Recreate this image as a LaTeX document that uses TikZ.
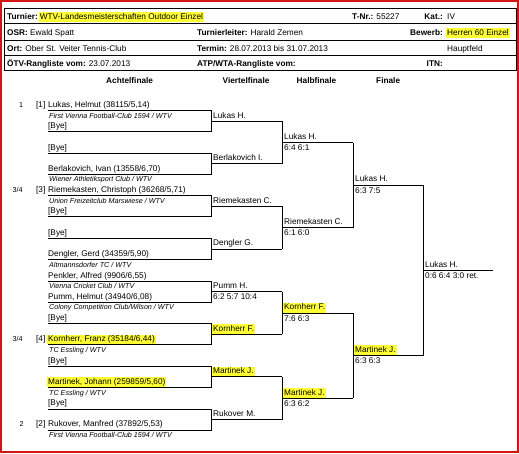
\documentclass[tikz,border=0pt]{standalone}
\usepackage{fontspec}
\setmainfont{Liberation Sans}
\definecolor{hly}{RGB}{255,255,51}
\definecolor{framered}{RGB}{210,20,20}
\newcommand{\hlt}[1]{{\setlength{\fboxsep}{1pt}\colorbox{hly}{\vphantom{Ag}#1}}}
\begin{document}
\begin{tikzpicture}[x=1bp,y=-1bp,
  txt/.style={anchor=base west,inner sep=0pt,font=\fontsize{8.3}{10}\selectfont},
  txtr/.style={anchor=base east,inner sep=0pt,font=\fontsize{8.3}{10}\selectfont\bfseries},
  colhd/.style={anchor=base west,inner sep=0pt,font=\fontsize{8.3}{10}\selectfont\bfseries},
  club/.style={anchor=base west,inner sep=0pt,font=\fontsize{7.2}{9}\selectfont\itshape},
  seedlbl/.style={anchor=base west,inner sep=0pt,font=\fontsize{7.2}{9}\selectfont},
  hlnode/.style={anchor=base west,inner sep=0pt,xshift=-1pt,font=\fontsize{8.3}{10}\selectfont},
  brk/.style={draw=black,line width=1bp},
  tblline/.style={draw=black,line width=1bp},
  redframe/.style={draw=framered,line width=1.6bp}]
\useasboundingbox (0,0) rectangle (519,454);
% outer frame
\coordinate (frTL) at (1,1); \coordinate (frBR) at (518,452);
\draw[redframe] (frTL) rectangle (frBR);
% header table
\coordinate (tbTL) at (4,8.3); \coordinate (tbBR) at (516,70.5);
\draw[tblline] (tbTL) rectangle (tbBR);
\foreach \y [count=\i] in {24,40.5,56}{
  \coordinate (rl\i) at (4,\y); \coordinate (rr\i) at (516,\y);
  \draw[tblline] (rl\i) -- (rr\i);
}
\node[txt] (hTur) at (7,19.2) {\textbf{Turnier:}\hspace{1pt}\hlt{WTV-Landesmeisterschaften Outdoor Einzel}};
\node[txt] (hTnr) at (352,19.2) {\textbf{T-Nr.:} 55227};
\node[txtr] (hKat) at (443,19.2) {Kat.:};
\node[txt] (hKatv) at (447,19.2) {IV};
\node[txt] (hOsr) at (7,35.3) {\textbf{OSR:} Ewald Spatt};
\node[txt] (hTl) at (197,35.3) {\textbf{Turnierleiter:} Harald Zemen};
\node[txtr] (hBew) at (443,35.3) {Bewerb:};
\node[hlnode] (hBewv) at (447,35.3) {\hlt{Herren 60 Einzel}};
\node[txt] (hOrt) at (7,51.3) {\textbf{Ort:} Ober St. Veiter Tennis-Club};
\node[txt] (hTer) at (197,51.3) {\textbf{Termin:} 28.07.2013 bis 31.07.2013};
\node[txt] (hHf) at (447,51.3) {Hauptfeld};
\node[txt] (hOtv) at (7,66.3) {\textbf{ÖTV-Rangliste vom:} 23.07.2013};
\node[txt] (hAtp) at (197,66.3) {\textbf{ATP/WTA-Rangliste vom:}};
\node[txtr] (hItn) at (443,66.3) {ITN:};
% column headers
\node[colhd] (cA) at (106,84) {Achtelfinale};
\node[colhd] (cV) at (222.5,84) {Viertelfinale};
\node[colhd] (cH) at (296.5,84) {Halbfinale};
\node[colhd] (cF) at (376,84) {Finale};
% first round brackets
\foreach \k/\t in {0/110.8,1/153.4,2/196.0,3/238.6,4/281.2,5/323.8,6/366.4,7/409.0}{
  \pgfmathsetmacro\b{\t+21}
  \pgfmathsetmacro\m{\t+10.5}
  \coordinate (r\k-ta) at (48,\t);
  \coordinate (r\k-tb) at (211,\t);
  \coordinate (r\k-bb) at (211,\b);
  \coordinate (r\k-ba) at (48,\b);
  \coordinate (q\k-a) at (211,\m);
  \coordinate (q\k-b) at (282,\m);
  \draw[brk] (r\k-ta) -- (r\k-tb) -- (r\k-bb) -- (r\k-ba);
  \draw[brk] (q\k-a) -- (q\k-b);
}
% quarter final joins and semi final lines
\foreach \j/\s in {0/142.6,1/227.8,2/313.0,3/398.2}{
  \pgfmathtruncatemacro\qa{2*\j}
  \pgfmathtruncatemacro\qc{2*\j+1}
  \draw[brk] (q\qa-b) -- (q\qc-b);
  \coordinate (s\j-a) at (282,\s);
  \coordinate (s\j-b) at (353,\s);
  \draw[brk] (s\j-a) -- (s\j-b);
}
% final
\draw[brk] (s0-b) -- (s1-b);
\draw[brk] (s2-b) -- (s3-b);
\coordinate (f0-a) at (353,185.2); \coordinate (f0-b) at (423,185.2);
\coordinate (f1-a) at (353,355.6); \coordinate (f1-b) at (423,355.6);
\draw[brk] (f0-a) -- (f0-b);
\draw[brk] (f1-a) -- (f1-b);
\draw[brk] (f0-b) -- (f1-b);
\coordinate (c-a) at (423,270.4); \coordinate (c-b) at (493,270.4);
\draw[brk] (c-a) -- (c-b);
% round 1 entries
\node[seedlbl] (l1) at (19,107.6) {1};
\node[txt] (sd1) at (36,107.6) {[1]};
\node[txt] (p1) at (48,107.6) {Lukas, Helmut (38115/5,14)};
\node[club] (c1) at (49,118.4) {First Vienna Football-Club 1594 / WTV};
\node[txt] (p2) at (48,128.6) {[Bye]};
\node[txt] (p3) at (48,150.2) {[Bye]};
\node[txt] (p4) at (48,171.2) {Berlakovich, Ivan (13558/6,70)};
\node[club] (c4) at (49,182.0) {Wiener Athletiksport Club / WTV};
\node[seedlbl] (l5) at (12.5,192.8) {3/4};
\node[txt] (sd5) at (36,192.8) {[3]};
\node[txt] (p5) at (48,192.8) {Riemekasten, Christoph (36268/5,71)};
\node[club] (c5) at (49,203.6) {Union Freizeitclub Marswiese / WTV};
\node[txt] (p6) at (48,213.8) {[Bye]};
\node[txt] (p7) at (48,235.4) {[Bye]};
\node[txt] (p8) at (48,256.4) {Dengler, Gerd (34359/5,90)};
\node[club] (c8) at (49,267.2) {Altmannsdorfer TC / WTV};
\node[txt] (p9) at (48,278.0) {Penkler, Alfred (9906/6,55)};
\node[club] (c9) at (49,288.8) {Vienna Cricket Club / WTV};
\node[txt] (p10) at (48,299.0) {Pumm, Helmut (34940/6,08)};
\node[club] (c10) at (49,309.8) {Colony Competition Club/Wilson / WTV};
\node[txt] (p11) at (48,320.6) {[Bye]};
\node[seedlbl] (l12) at (12.5,341.6) {3/4};
\node[txt] (sd12) at (36,341.6) {[4]};
\node[hlnode] (p12) at (48,341.6) {\hlt{Kornherr, Franz (35184/6,44)}};
\node[club] (c12) at (49,352.4) {TC Essling / WTV};
\node[txt] (p13) at (48,363.2) {[Bye]};
\node[hlnode] (p14) at (48,384.2) {\hlt{Martinek, Johann (259859/5,60)}};
\node[club] (c14) at (49,395.0) {TC Essling / WTV};
\node[txt] (p15) at (48,405.8) {[Bye]};
\node[seedlbl] (l16) at (19.5,426.8) {2};
\node[txt] (sd16) at (36,426.8) {[2]};
\node[txt] (p16) at (48,426.8) {Rukover, Manfred (37892/5,53)};
\node[club] (c16) at (49,437.6) {First Vienna Football-Club 1594 / WTV};
% quarter finals
\node[txt] (qn0) at (213,118.1) {Lukas H.};
\node[txt] (qn1) at (213,160.7) {Berlakovich I.};
\node[txt] (qn2) at (213,203.3) {Riemekasten C.};
\node[txt] (qn3) at (213,245.9) {Dengler G.};
\node[txt] (qn4) at (213,288.5) {Pumm H.};
\node[txt] (qs4) at (213,299.7) {6:2 5:7 10:4};
\node[hlnode] (qn5) at (213,331.1) {\hlt{Kornherr F.}};
\node[hlnode] (qn6) at (213,373.7) {\hlt{Martinek J.}};
\node[txt] (qn7) at (213,416.3) {Rukover M.};
% semi finals
\node[txt] (sn0) at (284,139.4) {Lukas H.};
\node[txt] (ss0) at (284,150.6) {6:4 6:1};
\node[txt] (sn1) at (284,224.6) {Riemekasten C.};
\node[txt] (ss1) at (284,235.8) {6:1 6:0};
\node[hlnode] (sn2) at (284,309.8) {\hlt{Kornherr F.}};
\node[txt] (ss2) at (284,321.0) {7:6 6:3};
\node[hlnode] (sn3) at (284,395.0) {\hlt{Martinek J.}};
\node[txt] (ss3) at (284,406.2) {6:3 6:2};
% finals
\node[txt] (fn0) at (355,182.0) {Lukas H.};
\node[txt] (fs0) at (355,193.2) {6:3 7:5};
\node[hlnode] (fn1) at (355,352.4) {\hlt{Martinek J.}};
\node[txt] (fs1) at (355,363.6) {6:3 6:3};
% champion
\node[txt] (cn) at (425,267.2) {Lukas H.};
\node[txt] (cs) at (425,278.4) {0:6 6:4 3:0 ret.};
\end{tikzpicture}
\end{document}
